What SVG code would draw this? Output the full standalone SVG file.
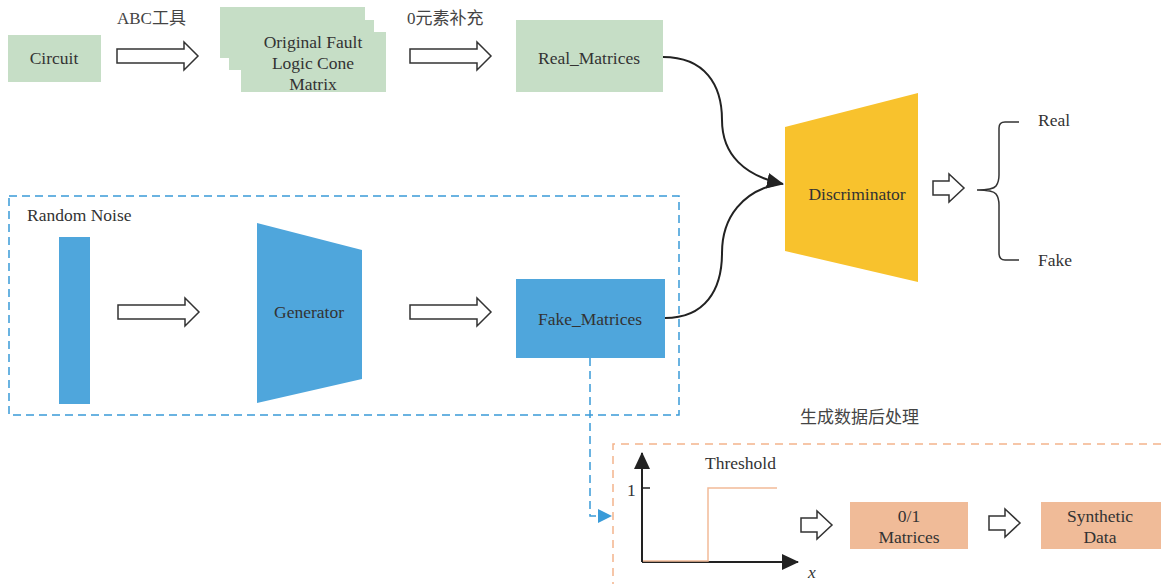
<svg xmlns="http://www.w3.org/2000/svg" width="1167" height="584" viewBox="0 0 1167 584">
  <style>
    .t { font-family: "Liberation Serif", "Noto Sans CJK SC", serif; font-size: 17.5px; fill: #333; }
    .cjk { font-family: "Liberation Serif", "Noto Sans CJK SC", serif; font-size: 17px; fill: #444; }
    .green { fill: #c6dec6; }
    .blue { fill: #4fa6dc; }
    .peach { fill: #f0bb98; }
    .blk { fill: #fff; stroke: #333; stroke-width: 1.5; stroke-linejoin: miter; }
    .conn { fill: none; stroke: #222; stroke-width: 2; }
  </style>
  <defs>
    <path id="bigArrow" d="M0,-7 H67 V-14 L81,0 L67,14 V7 H0 Z"/>
    <path id="smallArrow" d="M0,-7 H16 V-14 L31,0 L16,14 V7 H0 Z"/>
    <marker id="headBlack" markerUnits="userSpaceOnUse" markerWidth="18" markerHeight="18" viewBox="0 0 18 18" refX="16" refY="9" orient="auto">
      <path d="M0,1 L17,9 L0,17 Z" fill="#222"/>
    </marker>
    <marker id="axisHead" markerUnits="userSpaceOnUse" markerWidth="18" markerHeight="18" viewBox="0 0 18 18" refX="16" refY="9" orient="auto">
      <path d="M0,1 L17,9 L0,17 Z" fill="#222"/>
    </marker>
  </defs>

  <!-- generator group frame -->
  <rect x="9" y="196" width="670" height="219" fill="none" stroke="#3a9bd8" stroke-width="1.5" stroke-dasharray="8,5"/>
  <!-- post-processing frame -->
  <path d="M613,590 V444 H1167" fill="none" stroke="#f4b48c" stroke-width="1.5" stroke-dasharray="8,6"/>

  <g id="circuit">
    <rect class="green" x="8" y="35" width="93" height="47"/>
    <text class="t" x="54" y="64" text-anchor="middle">Circuit</text>
  </g>

  <g id="fault-cone-matrix">
    <rect class="green" x="220" y="7" width="145" height="51"/>
    <rect class="green" x="229" y="20" width="145" height="50"/>
    <rect class="green" x="241" y="32" width="145" height="60"/>
    <text class="t" x="313" y="48" text-anchor="middle">Original Fault</text>
    <text class="t" x="313" y="69" text-anchor="middle">Logic Cone</text>
    <text class="t" x="313" y="90" text-anchor="middle">Matrix</text>
  </g>

  <g id="real-matrices">
    <rect class="green" x="516" y="20" width="147" height="72"/>
    <text class="t" x="589" y="64" text-anchor="middle">Real_Matrices</text>
  </g>

  <g id="discriminator">
    <polygon points="785,127 918,93 918,282 785,251" fill="#f8c22d"/>
    <text class="t" x="857" y="200" text-anchor="middle">Discriminator</text>
  </g>

  <g id="outcome">
    <path d="M977,190 Q993,190 996,186 Q999,182 999,175 V128 Q999,122 1005,122 H1019 M977,190 Q993,190 996,194 Q999,198 999,205 V253 Q999,260 1005,260 H1019" fill="none" stroke="#333" stroke-width="1.5"/>
    <text class="t" x="1038" y="126">Real</text>
    <text class="t" x="1038" y="266">Fake</text>
  </g>

  <g id="random-noise">
    <text class="t" x="27" y="221">Random Noise</text>
    <rect class="blue" x="59" y="237" width="31" height="167"/>
  </g>

  <g id="generator">
    <polygon class="blue" points="257,223 362,250 362,379 257,403"/>
    <text class="t" x="309" y="318" text-anchor="middle">Generator</text>
  </g>

  <g id="fake-matrices">
    <rect class="blue" x="516" y="279" width="149" height="79"/>
    <text class="t" x="590" y="325" text-anchor="middle">Fake_Matrices</text>
  </g>

  <g id="threshold">
    <text class="t" x="705" y="469">Threshold</text>
    <line x1="642" y1="562" x2="642" y2="453" stroke="#222" stroke-width="2" marker-end="url(#axisHead)"/>
    <line x1="642" y1="562" x2="798" y2="562" stroke="#222" stroke-width="2" marker-end="url(#axisHead)"/>
    <line x1="642" y1="488" x2="650" y2="488" stroke="#222" stroke-width="1.5"/>
    <!-- step function drawn over the axes -->
    <polyline points="643,561 708,561 708,488 777,488" fill="none" stroke="#f2bb98" stroke-width="1.5"/>
    <text class="t" x="627" y="496">1</text>
    <text class="t" x="808" y="578" font-style="italic">x</text>
  </g>

  <g id="binary-matrices">
    <rect class="peach" x="850" y="502" width="118" height="47"/>
    <text class="t" x="909" y="522" text-anchor="middle">0/1</text>
    <text class="t" x="909" y="543" text-anchor="middle">Matrices</text>
  </g>

  <g id="synthetic-data">
    <rect class="peach" x="1041" y="502" width="120" height="47"/>
    <text class="t" x="1100" y="522" text-anchor="middle">Synthetic</text>
    <text class="t" x="1100" y="543" text-anchor="middle">Data</text>
  </g>

  <g id="labels">
    <text class="cjk" x="117" y="24">ABC工具</text>
    <text class="cjk" x="407" y="24">0元素补充</text>
    <text class="cjk" x="800" y="423">生成数据后处理</text>
  </g>

  <g id="connectors">
    <use href="#bigArrow" class="blk" x="117" y="56"/>
    <use href="#bigArrow" class="blk" x="410" y="56"/>
    <use href="#bigArrow" class="blk" x="118" y="312"/>
    <use href="#bigArrow" class="blk" x="410" y="312"/>
    <use href="#smallArrow" class="blk" x="933" y="188"/>
    <use href="#smallArrow" class="blk" x="801" y="525"/>
    <use href="#smallArrow" class="blk" x="989" y="523"/>
    <path class="conn" d="M663,57 C705,57 722,85 722,120 C722,155 745,176 783,184" marker-end="url(#headBlack)"/>
    <path class="conn" d="M665,318 C705,318 722,290 722,253 C722,215 745,192 774,185"/>
    <path d="M590,358 V516 H598" fill="none" stroke="#3a9bd8" stroke-width="1.5" stroke-dasharray="8,5"/>
    <path d="M598,509 L612,516 L598,523 Z" fill="#3a9bd8"/>
  </g>
</svg>
